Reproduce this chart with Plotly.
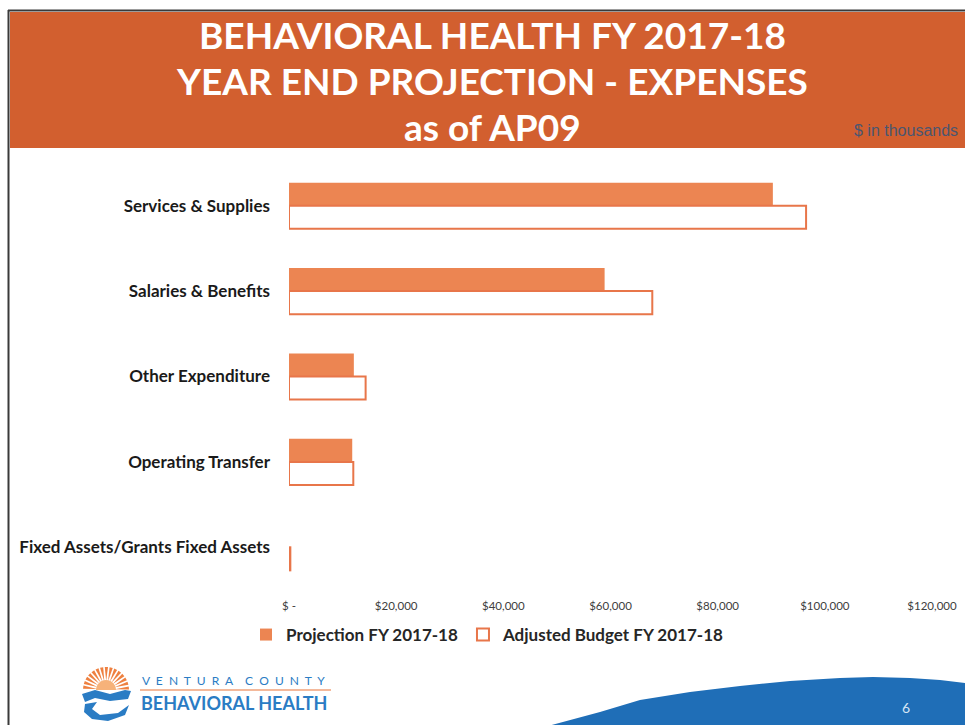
import math
import plotly.graph_objects as go

categories = ["Services & Supplies", "Salaries & Benefits", "Other Expenditure",
              "Operating Transfer", "Fixed Assets/Grants Fixed Assets"]
projection = [90300, 58900, 12100, 11800, 0]
adjusted_budget = [96500, 67800, 14300, 12000, 250]
tick_values = [0, 20000, 40000, 60000, 80000, 100000, 120000]
tick_labels = ["$ -", "$20,000", "$40,000", "$60,000", "$80,000", "$100,000", "$120,000"]

W, H = 965, 725
L, R, T, B = 289, 932, 163, 590


def px(x):
    return (x - L) / (R - L)


def py(y):
    return (B - y) / (B - T)


def poly(points):
    return "M " + " L ".join(f"{px(x)},{py(y)}" for x, y in points) + " Z"


ORANGE = "#EC8552"
ORANGE_LINE = "#E8764A"
BANNER = "#D25F2F"
BLUE = "#1F6EB7"
LOGO_BLUE = "#2A7CC4"
FONT = "Lato"

fig = go.Figure()
fig.add_trace(go.Bar(
    y=categories, x=projection, orientation="h", name="Projection FY 2017-18",
    marker=dict(color=ORANGE, line=dict(color=ORANGE, width=0)),
))
fig.add_trace(go.Bar(
    y=categories, x=adjusted_budget, orientation="h", name="Adjusted Budget FY 2017-18",
    marker=dict(color="white", line=dict(color=ORANGE_LINE, width=2)),
))

shapes = []
# banner
shapes.append(dict(type="rect", xref="paper", yref="paper", x0=px(10), x1=px(966),
                   y0=py(12), y1=py(148), fillcolor=BANNER, line=dict(width=0), layer="below"))
# slide borders
shapes.append(dict(type="line", xref="paper", yref="paper", x0=px(8), x1=px(966),
                   y0=py(10.5), y1=py(10.5), line=dict(color="#3a3a3a", width=2)))
shapes.append(dict(type="line", xref="paper", yref="paper", x0=px(8.5), x1=px(8.5),
                   y0=py(10), y1=py(726), line=dict(color="#3a3a3a", width=2)))
# blue swoosh
pts = [(548, 726), (600, 712), (640, 700), (690, 692), (740, 686), (790, 681),
       (840, 678), (873, 677), (910, 678), (940, 680), (966, 683), (966, 726)]
shapes.append(dict(type="path", xref="paper", yref="paper", path=poly(pts),
                   fillcolor=BLUE, line=dict(width=0)))
# logo: sun with rays
cx, cy = 106, 690
for a in range(5, 180, 12):
    r0, r1 = 9, 23
    a0, a1 = math.radians(a - 4), math.radians(a + 4)
    ray = [(cx + r0 * math.cos(math.radians(a)), cy - r0 * math.sin(math.radians(a))),
           (cx + r1 * math.cos(a0), cy - r1 * math.sin(a0)),
           (cx + r1 * math.cos(a1), cy - r1 * math.sin(a1))]
    shapes.append(dict(type="path", xref="paper", yref="paper", path=poly(ray),
                       fillcolor="#EE8040", line=dict(width=0)))
sun2 = [(cx + 10 * math.cos(math.radians(a)), cy - 10 * math.sin(math.radians(a))) for a in range(0, 181, 15)]
shapes.append(dict(type="path", xref="paper", yref="paper", path=poly(sun2),
                   fillcolor="#F6B27A", line=dict(width=0)))
# logo waves
wave1 = [(82, 694), (95, 690), (110, 694), (125, 690), (131, 691), (128, 699), (110, 701),
         (95, 698), (85, 702)]
shapes.append(dict(type="path", xref="paper", yref="paper", path=poly(wave1),
                   fillcolor=LOGO_BLUE, line=dict(width=0)))
wave2 = [(85, 704), (97, 702), (92, 709), (100, 715), (118, 713), (129, 705), (125, 715),
         (108, 721), (92, 719), (84, 712)]
shapes.append(dict(type="path", xref="paper", yref="paper", path=poly(wave2),
                   fillcolor=LOGO_BLUE, line=dict(width=0)))
# logo divider line
shapes.append(dict(type="line", xref="paper", yref="paper", x0=px(140), x1=px(331),
                   y0=py(690), y1=py(690), line=dict(color="#F0A27A", width=1.5)))

annotations = []
title_lines = [("BEHAVIORAL HEALTH FY 2017-18", 34), ("YEAR END PROJECTION - EXPENSES", 80),
               ("as of AP09", 127)]
for text, y in title_lines:
    annotations.append(dict(text=text, x=px(492), y=py(y), xref="paper", yref="paper",
                            showarrow=False, xanchor="center", yanchor="middle",
                            font=dict(family=FONT, size=37, color="white", weight="bold")))
annotations.append(dict(text="$ in thousands", x=px(960), y=py(131), xref="paper", yref="paper",
                        showarrow=False, xanchor="right", yanchor="middle",
                        font=dict(family="Liberation Sans", size=16, color="#4A5670")))
spaced = "&nbsp;&nbsp;".join("VENTURA") + "&nbsp;&nbsp;&nbsp;&nbsp;" + "&nbsp;&nbsp;".join("COUNTY")
annotations.append(dict(text=spaced, x=px(140), y=py(680), xref="paper",
                        yref="paper", showarrow=False, xanchor="left", yanchor="middle",
                        font=dict(family=FONT, size=12, color=LOGO_BLUE)))
annotations.append(dict(text="BEHAVIORAL HEALTH", x=px(139), y=py(703), xref="paper",
                        yref="paper", showarrow=False, xanchor="left", yanchor="middle",
                        font=dict(family=FONT, size=18, color=LOGO_BLUE, weight="bold")))
annotations.append(dict(text="6", x=px(906), y=py(707), xref="paper", yref="paper",
                        showarrow=False, xanchor="center", yanchor="middle",
                        font=dict(family=FONT, size=14, color="#D6E6F5")))

fig.update_layout(
    width=W, height=H,
    margin=dict(l=L, r=W - R, t=T, b=H - B, pad=0, autoexpand=False),
    paper_bgcolor="white", plot_bgcolor="white",
    barmode="group", bargap=0.46, bargroupgap=0,
    showlegend=True,
    legend=dict(orientation="h", xref="container", yref="container",
                x=246 / W, y=1 - 617 / H, xanchor="left", yanchor="top",
                font=dict(family=FONT, size=17, color="#262626", weight="bold"),
                itemwidth=30, traceorder="normal", bgcolor="rgba(0,0,0,0)"),
    xaxis=dict(range=[0, 120000], tickvals=tick_values, ticktext=tick_labels,
               showgrid=False, zeroline=False, showline=False, ticks="",
               ticklabelstandoff=7, automargin=False,
               tickfont=dict(family=FONT, size=11.5, color="#404040"), fixedrange=True),
    yaxis=dict(autorange="reversed", showgrid=False, zeroline=False, showline=False,
               ticks="", ticklabelstandoff=18, automargin=False,
               tickfont=dict(family=FONT, size=17, color="#1a1a1a", weight="bold"),
               fixedrange=True),
    shapes=shapes,
    annotations=annotations,
    hovermode=False,
)

fig.write_html("out.html", config={"displayModeBar": False},
               post_script="document.body.style.margin='0';")
